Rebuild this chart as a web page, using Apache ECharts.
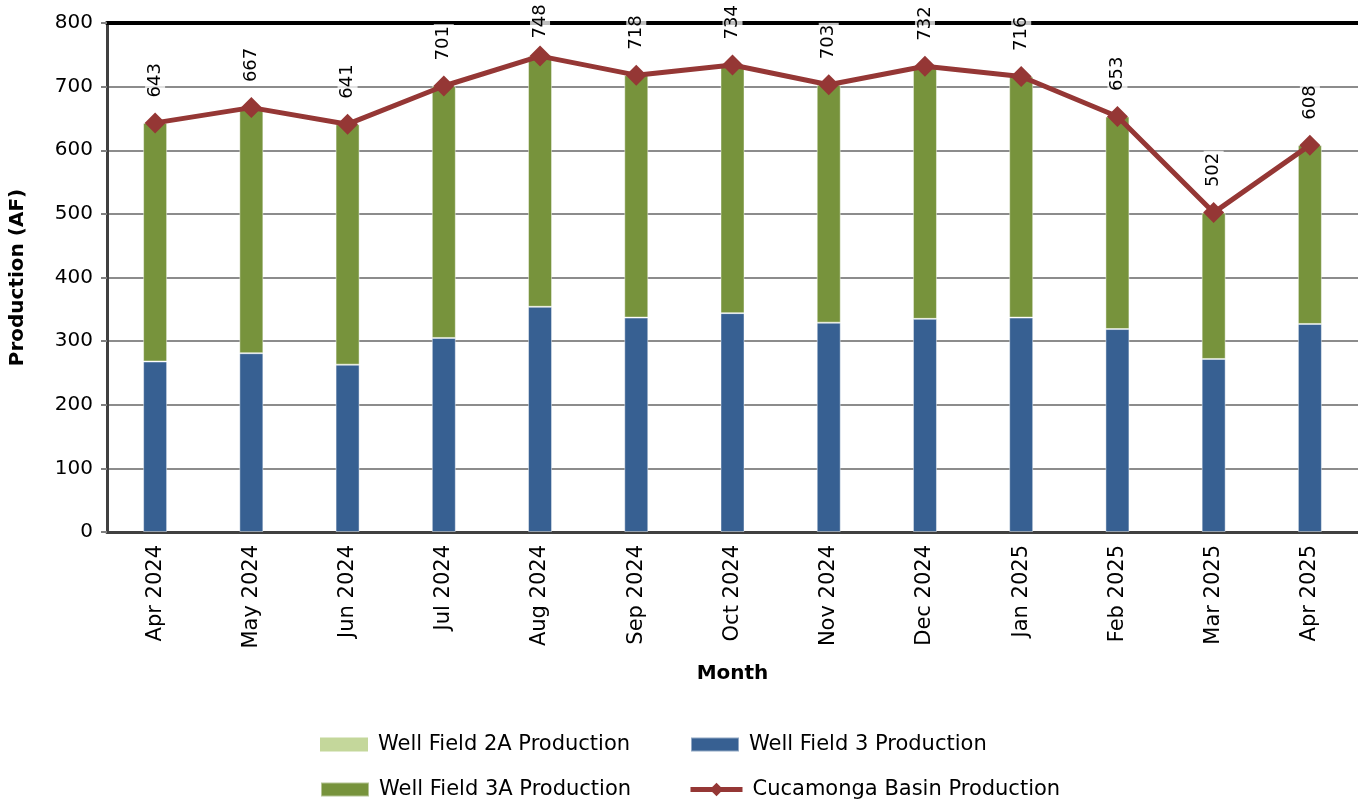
<!DOCTYPE html>
<html>
<head>
<meta charset="utf-8">
<script src="https://cdn.jsdelivr.net/npm/echarts@6/dist/echarts.min.js"></script>
<style>
  html, body { margin: 0; padding: 0; background: #fff; }
  #main { width: 1358px; height: 805px; }
</style>
</head>
<body>
<div id="main"></div>
<script>
const months = ['Apr 2024', 'May 2024', 'Jun 2024', 'Jul 2024', 'Aug 2024', 'Sep 2024', 'Oct 2024',
  'Nov 2024', 'Dec 2024', 'Jan 2025', 'Feb 2025', 'Mar 2025', 'Apr 2025']
const wellField2A = [0, 0, 0, 0, 0, 0, 0, 0, 0, 0, 0, 0, 0]
const wellField3 = [268, 281, 263, 305, 354, 337, 344, 329, 335, 337, 319, 272, 327]
const wellField3A = [375, 386, 378, 396, 394, 381, 390, 374, 397, 379, 334, 230, 281]
const basinTotal = [643, 667, 641, 701, 748, 718, 734, 703, 732, 716, 653, 502, 608]
const yTicks = { min: 0, max: 800, interval: 100 }

const FONT = 'DejaVu Sans'
const chart = echarts.init(document.getElementById('main'))

const legendBase = {
  padding: 0,
  itemWidth: 48,
  itemHeight: 14,
  itemGap: 6,
  textStyle: { fontFamily: FONT, fontSize: 21, color: '#000', padding: [0, 0, 0, 5] }
}

const option = {
  animation: false,
  backgroundColor: '#fff',
  grid: { left: 103, top: 23, width: 1258, bottom: 273 },
  legend: [
    { ...legendBase, left: 320, top: 734, icon: 'rect', data: ['Well Field 2A Production'] },
    { ...legendBase, left: 690, top: 734, icon: 'rect', data: ['Well Field 3 Production'] },
    { ...legendBase, left: 320, top: 779, icon: 'rect', data: ['Well Field 3A Production'] },
    { ...legendBase, left: 688, top: 779, itemWidth: 52, itemHeight: 17, lineStyle: { width: 5 },
      data: ['Cucamonga Basin Production'] }
  ],
  xAxis: [{
    type: 'category',
    data: months,
    name: 'Month',
    nameLocation: 'middle',
    nameGap: 132,
    nameTextStyle: { fontFamily: FONT, fontSize: 20, fontWeight: 'bold', color: '#000' },
    axisLine: { lineStyle: { color: '#404040', width: 3 } },
    axisTick: { length: 7, lineStyle: { color: '#808080', width: 2 } },
    axisLabel: { rotate: 90, margin: 13, fontFamily: FONT, fontSize: 21, color: '#000' }
  }, {
    type: 'category',
    data: months,
    position: 'top',
    axisLine: { lineStyle: { color: '#000', width: 4 } },
    axisTick: { show: false },
    axisLabel: { show: false }
  }],
  yAxis: {
    type: 'value',
    min: yTicks.min,
    max: yTicks.max,
    interval: yTicks.interval,
    name: 'Production (AF)',
    nameLocation: 'middle',
    nameGap: 79,
    nameTextStyle: { fontFamily: FONT, fontSize: 20, fontWeight: 'bold', color: '#000' },
    axisLine: { show: true, lineStyle: { color: '#404040', width: 3 } },
    axisTick: { show: true, length: 6, lineStyle: { color: '#808080', width: 2 } },
    axisLabel: { margin: 14, fontFamily: FONT, fontSize: 20, color: '#000' },
    splitLine: { lineStyle: { color: '#8c8c8c', width: 2 } }
  },
  series: [
    {
      name: 'Well Field 2A Production',
      type: 'bar',
      stack: 'prod',
      barWidth: 24,
      itemStyle: { color: '#c4d79b' },
      data: wellField2A
    },
    {
      name: 'Well Field 3 Production',
      type: 'bar',
      stack: 'prod',
      barWidth: 24,
      itemStyle: { color: '#376092', borderColor: 'rgba(255,255,255,0.45)', borderWidth: 1 },
      data: wellField3
    },
    {
      name: 'Well Field 3A Production',
      type: 'bar',
      stack: 'prod',
      barWidth: 24,
      itemStyle: { color: '#77933c', borderColor: 'rgba(255,255,255,0.45)', borderWidth: 1 },
      data: wellField3A
    },
    {
      name: 'Cucamonga Basin Production',
      type: 'line',
      z: 5,
      symbol: 'diamond',
      symbolSize: 21,
      lineStyle: { color: '#953735', width: 5 },
      itemStyle: { color: '#953735' },
      label: {
        show: true,
        position: 'top',
        distance: 13,
        rotate: 90,
        align: 'left',
        verticalAlign: 'middle',
        fontFamily: FONT,
        fontSize: 18,
        color: '#000',
        backgroundColor: 'rgba(255,255,255,0.75)',
        padding: [1, 2]
      },
      // the tallest label is pushed down so it stays inside the chart
      data: basinTotal.map(v => v > 740 ? { value: v, label: { distance: 5 } } : v)
    }
  ]
}

chart.setOption(option)
</script>
</body>
</html>
